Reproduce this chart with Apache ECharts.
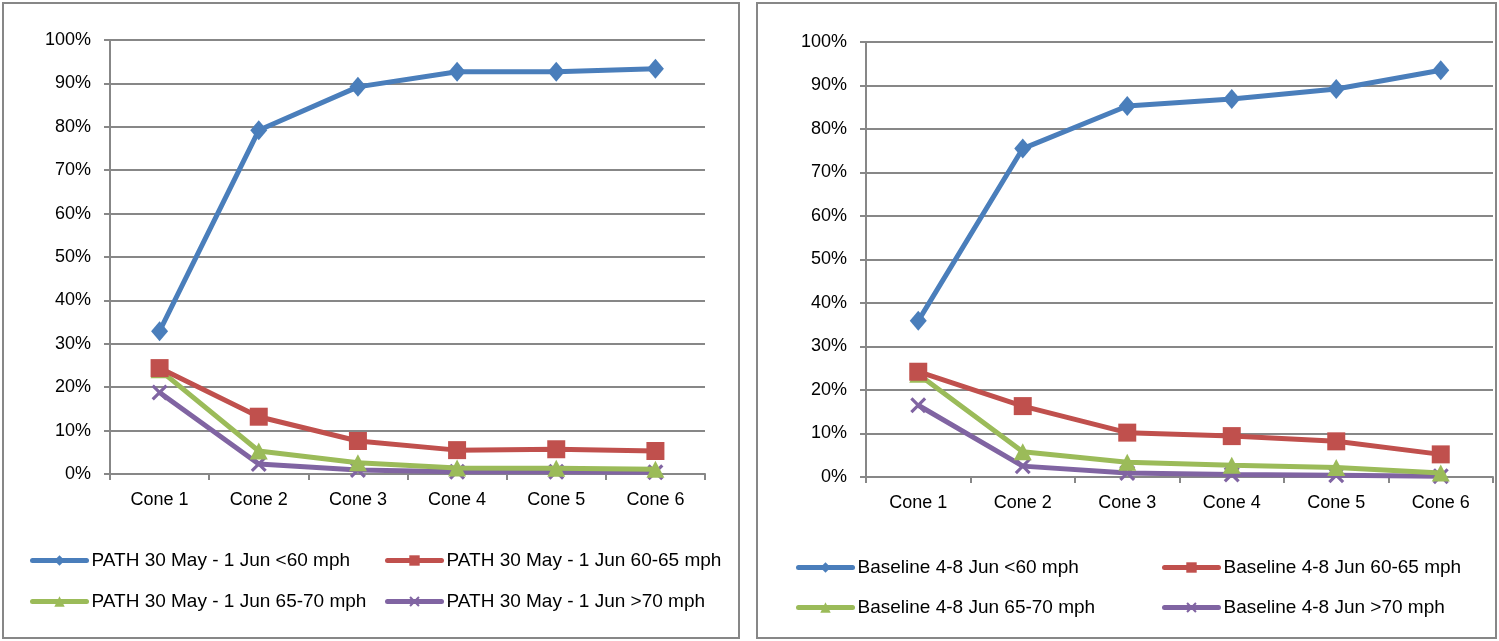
<!DOCTYPE html>
<html><head><meta charset="utf-8">
<script src="https://cdn.jsdelivr.net/npm/echarts@6/dist/echarts.min.js"></script>
<style>html,body{margin:0;padding:0;background:#fff}#c{width:1499px;height:641px}</style>
</head><body><div id="c"></div>
<script>
const categories = ['Cone 1','Cone 2','Cone 3','Cone 4','Cone 5','Cone 6'];
const yTicks = [0,10,20,30,40,50,60,70,80,90,100];
const leftNames = ['PATH 30 May - 1 Jun <60 mph','PATH 30 May - 1 Jun 60-65 mph','PATH 30 May - 1 Jun 65-70 mph','PATH 30 May - 1 Jun >70 mph'];
const rightNames = ['Baseline 4-8 Jun <60 mph','Baseline 4-8 Jun 60-65 mph','Baseline 4-8 Jun 65-70 mph','Baseline 4-8 Jun >70 mph'];
const pathLt60 = [32.9, 79.2, 89.2, 92.7, 92.7, 93.4];
const path60_65 = [24.4, 13.2, 7.6, 5.5, 5.7, 5.3];
const path65_70 = [24.0, 5.3, 2.6, 1.4, 1.3, 1.1];
const pathGt70 = [18.8, 2.3, 0.9, 0.5, 0.5, 0.4];
const baseLt60 = [35.9, 75.5, 85.3, 86.9, 89.2, 93.5];
const base60_65 = [24.2, 16.3, 10.2, 9.4, 8.2, 5.2];
const base65_70 = [23.6, 5.8, 3.4, 2.7, 2.2, 0.9];
const baseGt70 = [16.5, 2.5, 0.9, 0.6, 0.4, 0.2];

const colors = ['#4A7EBB','#C0504D','#9BBB59','#8064A2'];
const xSym = 'path://M0,1.4L1.4,0L5,3.6L8.6,0L10,1.4L6.4,5L10,8.6L8.6,10L5,6.4L1.4,10L0,8.6L3.6,5Z';
const symbols = ['diamond','rect','triangle',xSym];
const symSizes = [[17,20],18,[18,17],16];
const FONT = 'Liberation Sans';
const gridCol = '#878787';

function mkX(i){return {type:'category',gridIndex:i,data:categories,boundaryGap:true,
  axisLine:{lineStyle:{color:gridCol,width:2}},
  axisTick:{show:true,length:6,lineStyle:{color:gridCol,width:2},alignWithLabel:false},
  axisLabel:{color:'#000',fontFamily:FONT,fontSize:18,margin:17}};}
function mkY(i){return {type:'value',gridIndex:i,min:0,max:100,interval:10,
  axisLine:{show:true,lineStyle:{color:gridCol,width:2}},
  axisTick:{show:true,length:6,lineStyle:{color:gridCol,width:2}},
  splitLine:{lineStyle:{color:gridCol,width:2}},
  axisLabel:{color:'#000',fontFamily:FONT,fontSize:18,margin:19,formatter:v=>v+'%'}};}
function mkS(name,data,k,g){return {type:'line',name:name,data:data,xAxisIndex:g,yAxisIndex:g,
  symbol:symbols[k],symbolSize:symSizes[k],showSymbol:true,
  lineStyle:{color:colors[k],width:5},itemStyle:{color:colors[k]},
  z:10-k,animation:false};}

const series=[];
[pathLt60,path60_65,path65_70,pathGt70].forEach((d,k)=>series.push(mkS(leftNames[k],d,k,0)));
[baseLt60,base60_65,base65_70,baseGt70].forEach((d,k)=>series.push(mkS(rightNames[k],d,k,1)));

const legPos = [
  [30,551],[385,551],[30,592],[385,592],
  [796,558],[1162,558],[796,598],[1162,598]
];
const allNames = leftNames.concat(rightNames);
const legends = allNames.map((n,i)=>({data:[n],left:legPos[i][0],top:legPos[i][1],
  itemWidth:54,itemHeight:13,itemGap:0,padding:0,
  lineStyle:{width:5,cap:'round'},
  textStyle:{fontFamily:FONT,fontSize:19,color:'#000'},
  selectedMode:false}));

const chart = echarts.init(document.getElementById('c'),null,{renderer:'canvas'});
chart.setOption({
  animation:false,
  grid:[{left:110,top:40,width:595,height:434},{left:866,top:42,width:627,height:435}],
  xAxis:[mkX(0),mkX(1)],
  yAxis:[mkY(0),mkY(1)],
  legend:legends,
  series:series,
  graphic:[
    {type:'rect',shape:{x:3,y:3,width:736,height:635},style:{fill:'none',stroke:gridCol,lineWidth:2},silent:true},
    {type:'rect',shape:{x:757,y:3,width:739,height:635},style:{fill:'none',stroke:gridCol,lineWidth:2},silent:true}
  ]
});
</script></body></html>
